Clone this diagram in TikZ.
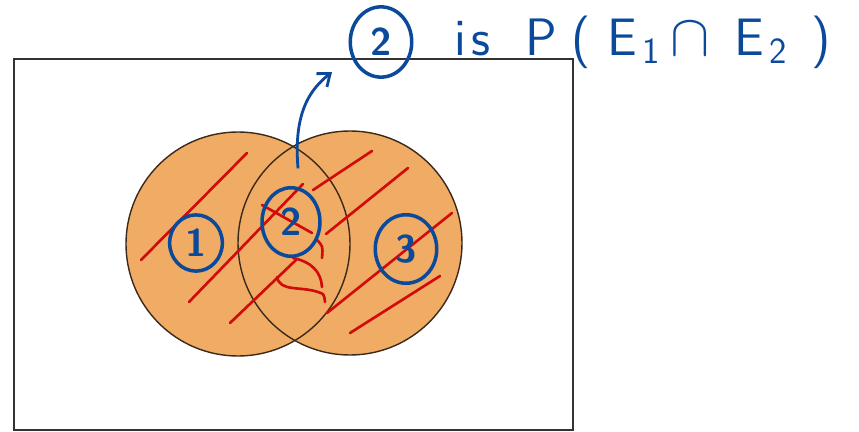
\documentclass[tikz,border=0pt]{standalone}
\usepackage{amsmath,amssymb}
\usepackage{tikz}
\usetikzlibrary{arrows.meta, positioning, shapes.geometric}
\definecolor{setorange}{HTML}{F0AB64}
\definecolor{setrim}{HTML}{3B2A1C}
\definecolor{inkblue}{HTML}{0B4A9B}
\definecolor{inkred}{HTML}{D10A0A}
\newcommand{\lowidx}[1]{\raisebox{-5pt}{\fontsize{21}{21}\selectfont #1}}

\begin{document}
\begin{tikzpicture}[
  x=0.02cm, y=-0.02cm,
  setfill/.style={fill=setorange},
  setedge/.style={draw=setrim, line width=0.8pt},
  hatch/.style={draw=inkred, line width=1.5pt, line cap=round},
  numring/.style={ellipse, draw=inkblue, line width=2pt, inner sep=0pt, text=inkblue,
                  font=\sffamily\bfseries\fontsize{22}{22}\selectfont},
  inkarrow/.style={-{Straight Barb[length=2.2mm, width=3.4mm]}, draw=inkblue, line width=1.6pt}
]
\useasboundingbox (0,0) rectangle (859,432);

% Sample space
\draw[line width=1.1pt, black!80] (14,59) rectangle (573,430);

% Event discs E1 and E2
\coordinate (E1) at (238,244);
\coordinate (E2) at (350,243);
\fill[setfill] (E1) circle [radius=112];
\fill[setfill] (E2) circle [radius=112];
\draw[setedge] (E1) circle [radius=112];
\draw[setedge] (E2) circle [radius=112];

% Red shading strokes
\foreach \ax/\ay/\bx/\by in {
  141/260/247/153, 189/302/303/184, 230/323/296/260, 313/190/372/151,
  326/234/408/168, 327/313/452/213, 350/333/440/276, 262/205/312/233
}{
  \draw[hatch] (\ax,\ay) -- (\bx,\by);
}
\draw[hatch] (316,239) .. controls (323,246) .. (322,258);
\draw[hatch] (293,258) .. controls (312,262) and (321,272) .. (322,287);
\draw[hatch] (277,277) .. controls (280,292) and (300,286) .. (318,292)
  .. controls (324,294) .. (325,302);

% Region labels
\node[numring, minimum width=30pt, minimum height=32pt] (n1) at (196,243) {1};
\node[numring, minimum width=33pt, minimum height=39pt] (n2) at (291,222) {2};
\node[numring, minimum width=35pt, minimum height=39pt] (n3) at (406,249) {3};

% Annotation
\node[numring, minimum width=35pt, minimum height=40pt] (lbl2) at (381,42) {2};
\node[right=23pt of lbl2, inner sep=0pt, text=inkblue,
      font=\sffamily\fontsize{30}{30}\selectfont] (lbltxt)
  {i\hspace{3pt}s\hspace{20pt}P\hspace{8pt}(\hspace{10pt}E\hspace{3pt}\lowidx{1}\hspace{6pt}\scalebox{1.35}{$\cap$}\hspace{14pt}E\hspace{3pt}\lowidx{2}\hspace{14pt})};

\coordinate (tip) at (332,72);
\draw[inkarrow] ([xshift=4pt, yshift=10pt]n2.north)
  .. controls (293,110) and (312,88) .. (tip);

\end{tikzpicture}
\end{document}
